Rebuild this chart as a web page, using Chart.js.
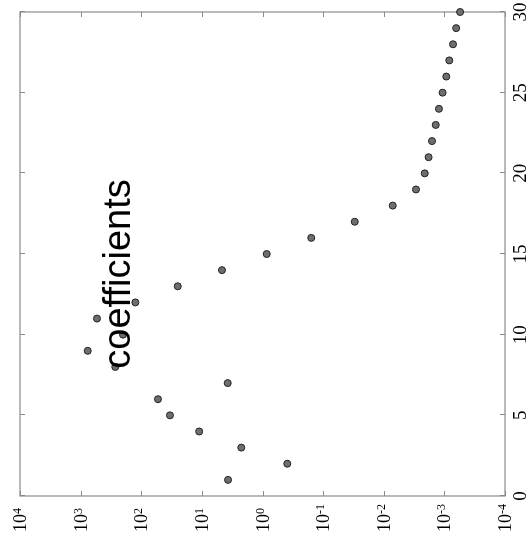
<!DOCTYPE html>
<html>
<head>
<meta charset="utf-8">
<script src="https://cdn.jsdelivr.net/npm/chart.js@4"></script>
<style>
  html, body { margin: 0; padding: 0; background: #fff; overflow: hidden; }
  /* plot is laid out landscape, then turned a quarter to the left */
  #wrap {
    position: absolute; left: 0; top: 0;
    width: 544px; height: 531px;
    transform-origin: 0 0;
    transform: translate(0, 544px) rotate(-90deg);
  }
</style>
</head>
<body>
<div id="wrap"><canvas id="coefChart" width="544" height="531"></canvas></div>
<script>
const orders = [1, 2, 3, 4, 5, 6, 7, 8, 9, 10, 11, 12, 13, 14, 15,
                16, 17, 18, 19, 20, 21, 22, 23, 24, 25, 26, 27, 28, 29, 30];
const coeffs = [3.7, 0.39, 2.24, 11.1, 33.6, 53, 3.75, 268, 764, 200,
                537, 125, 25, 4.66, 0.853, 0.157, 0.0301, 0.00711, 0.00294, 0.00211,
                0.00182, 0.0016, 0.00139, 0.00123, 0.00107, 0.00093, 0.00083, 0.00072, 0.00064, 0.00055];
const xTicks = [0, 5, 10, 15, 20, 25, 30];
const decades = [4, 3, 2, 1, 0, -1, -2, -3, -4];
const titleText = "coefficients";

const serif = '"Liberation Serif", "Times New Roman", serif';

// box frame with inward ticks on all four sides
const framePlugin = {
  id: "frame",
  beforeDatasetsDraw(chart) {
    const { ctx, chartArea: a, scales } = chart;
    ctx.save();
    ctx.strokeStyle = "#a3a3a3";
    ctx.lineWidth = 1.5;
    ctx.strokeRect(a.left, a.top, a.right - a.left, a.bottom - a.top);

    ctx.strokeStyle = "#8a8a8a";
    ctx.lineWidth = 1;
    ctx.beginPath();
    decades.forEach(p => {
      const y = Math.round(scales.y.getPixelForValue(Math.pow(10, p))) + 0.5;
      ctx.moveTo(a.left, y); ctx.lineTo(a.left + 5, y);
      ctx.moveTo(a.right, y); ctx.lineTo(a.right - 5, y);
    });
    xTicks.forEach(v => {
      const x = Math.round(scales.x.getPixelForValue(v)) + 0.5;
      ctx.moveTo(x, a.bottom); ctx.lineTo(x, a.bottom - 5);
      ctx.moveTo(x, a.top); ctx.lineTo(x, a.top + 5);
    });
    ctx.stroke();
    ctx.restore();
  },
  afterDraw(chart) {
    const { ctx, chartArea: a, scales } = chart;
    ctx.save();
    ctx.fillStyle = "#000";

    // log axis labels as 10 with a raised exponent
    ctx.textAlign = "left";
    ctx.textBaseline = "alphabetic";
    decades.forEach(p => {
      const y = scales.y.getPixelForValue(Math.pow(10, p));
      ctx.font = "18px " + serif;
      ctx.fillText("10", 12, y + 6);
      const w = ctx.measureText("10").width;
      ctx.font = "12px " + serif;
      ctx.fillText(String(p), 12 + w, y + 1);
    });

    ctx.font = "19px " + serif;
    ctx.textAlign = "center";
    xTicks.forEach(v => {
      ctx.fillText(String(v), scales.x.getPixelForValue(v), a.bottom + 21);
    });

    ctx.font = '38px "Liberation Sans", Arial, sans-serif';
    ctx.fillText(titleText, 270, 130);
    ctx.restore();
  }
};

new Chart(document.getElementById("coefChart").getContext("2d"), {
  type: "scatter",
  data: {
    datasets: [{
      data: orders.map((n, i) => ({ x: n, y: coeffs[i] })),
      pointRadius: 3.5,
      pointBackgroundColor: "#6e6e6e",
      pointBorderColor: "#222",
      pointBorderWidth: 1,
      clip: false
    }]
  },
  options: {
    responsive: false,
    animation: false,
    layout: { padding: { left: 48, right: 12, top: 20, bottom: 26 } },
    plugins: { legend: { display: false }, tooltip: { enabled: false } },
    scales: {
      x: { type: "linear", min: 0, max: 30, display: false },
      y: { type: "logarithmic", min: 1e-4, max: 1e4, display: false }
    }
  },
  plugins: [framePlugin]
});
</script>
</body>
</html>
